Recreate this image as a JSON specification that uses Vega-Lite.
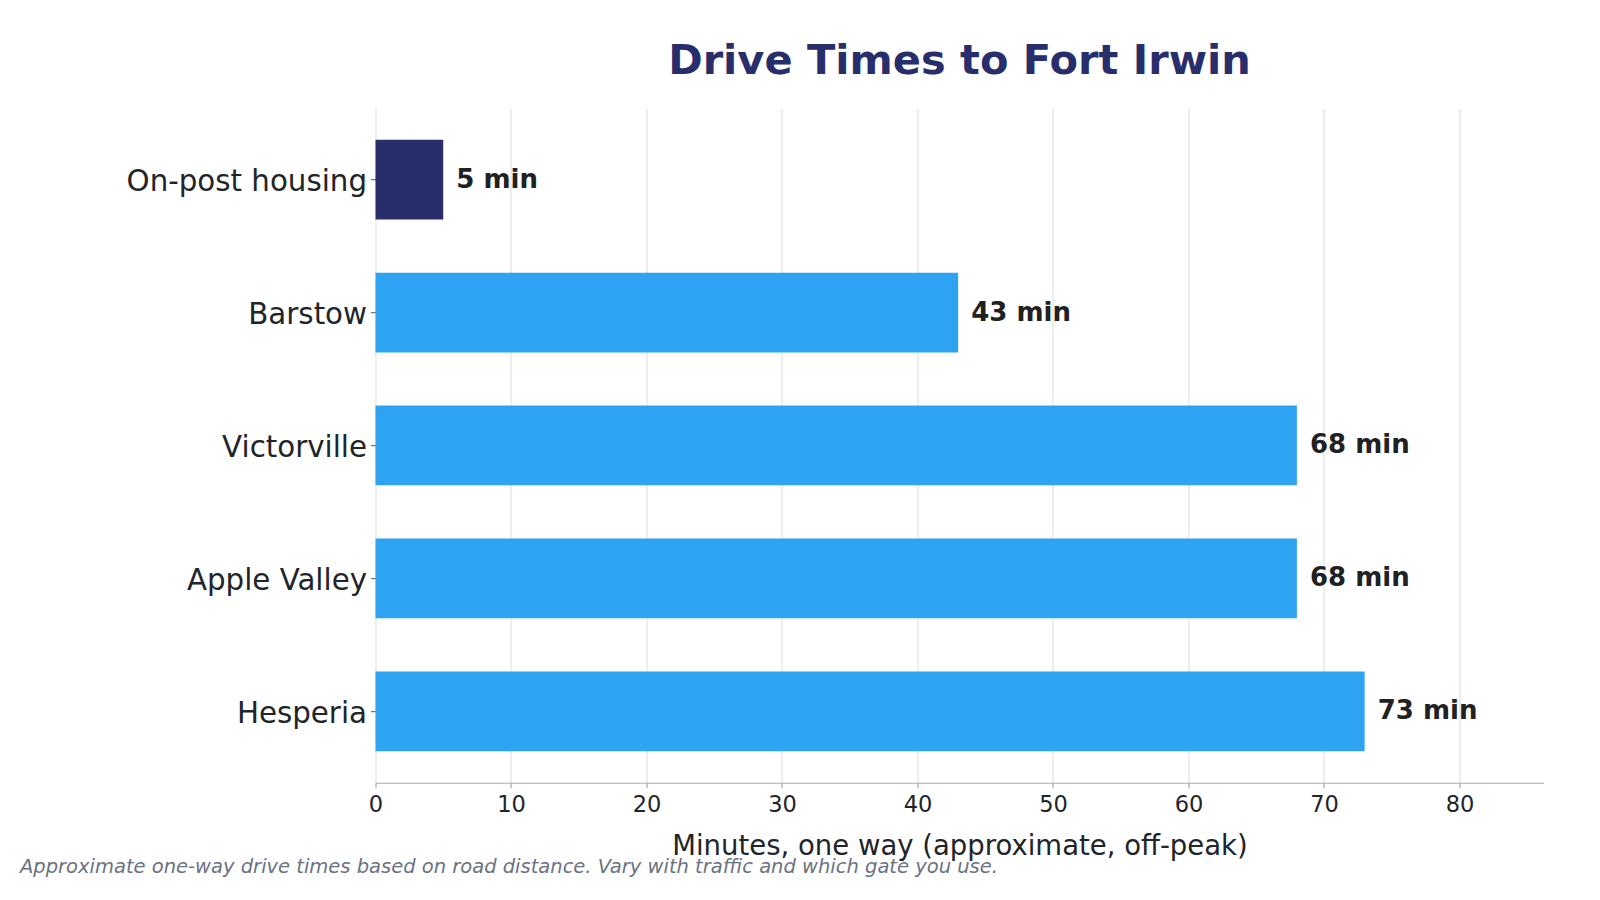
{
  "$schema": "https://vega.github.io/schema/vega-lite/v6.json",
  "width": 1168,
  "height": 674.5,
  "autosize": {"type": "none"},
  "padding": {"left": 375.5, "top": 108.2, "right": 56.5, "bottom": 117.3},
  "background": "white",
  "config": {
    "view": {"stroke": null},
    "font": "DejaVu Sans"
  },
  "title": {
    "text": "Drive Times to Fort Irwin",
    "anchor": "middle",
    "font": "DejaVu Sans",
    "fontSize": 41.5,
    "fontWeight": "bold",
    "color": "#282e6b",
    "offset": 26
  },
  "data": {
    "values": [
      {"place": "On-post housing", "minutes": 5, "group": "on-post"},
      {"place": "Barstow", "minutes": 43, "group": "off-post"},
      {"place": "Victorville", "minutes": 68, "group": "off-post"},
      {"place": "Apple Valley", "minutes": 68, "group": "off-post"},
      {"place": "Hesperia", "minutes": 73, "group": "off-post"}
    ]
  },
  "transform": [
    {"calculate": "datum.minutes + ' min'", "as": "label"}
  ],
  "encoding": {
    "y": {
      "field": "place",
      "type": "nominal",
      "sort": null,
      "scale": {"paddingInner": 0.4, "paddingOuter": 0.237},
      "axis": {
        "title": null,
        "domain": false,
        "ticks": true,
        "tickSize": 5,
        "tickColor": "#555555",
        "labelPadding": 4,
        "labelLimit": 400,
        "labelOffset": 2.5,
        "labelFontSize": 29.3,
        "labelColor": "#212529",
        "labelFont": "DejaVu Sans"
      }
    }
  },
  "layer": [
    {
      "mark": {"type": "bar"},
      "encoding": {
        "x": {
          "field": "minutes",
          "type": "quantitative",
          "scale": {"domain": [0, 86.2], "nice": false, "zero": true},
          "axis": {
            "values": [0, 10, 20, 30, 40, 50, 60, 70, 80],
            "title": "Minutes, one way (approximate, off-peak)",
            "titleFont": "DejaVu Sans",
            "titleFontSize": 27.5,
            "titleFontWeight": "normal",
            "titleColor": "#212529",
            "titlePadding": 16,
            "labelFont": "DejaVu Sans",
            "labelFontSize": 22.5,
            "labelColor": "#212529",
            "labelPadding": 6,
            "labelFlush": false,
            "tickSize": 5,
            "tickColor": "#999999",
            "domainColor": "#aaaaaa",
            "grid": true,
            "gridColor": "#dcdcdc",
            "gridWidth": 1
          }
        },
        "color": {
          "field": "group",
          "type": "nominal",
          "scale": {"domain": ["on-post", "off-post"], "range": ["#282e6b", "#2ea3f2"]},
          "legend": null
        }
      }
    },
    {
      "mark": {
        "type": "text",
        "align": "left",
        "baseline": "middle",
        "dx": 13,
        "font": "DejaVu Sans",
        "fontSize": 26,
        "fontWeight": "bold",
        "color": "#212121"
      },
      "encoding": {
        "x": {
          "field": "minutes",
          "type": "quantitative",
          "scale": {"domain": [0, 86.2], "nice": false, "zero": true},
          "axis": {
            "orient": "bottom",
            "domain": false,
            "ticks": false,
            "labels": false,
            "grid": false,
            "title": "Approximate one-way drive times based on road distance. Vary with traffic and which gate you use.",
            "titleFont": "DejaVu Sans",
            "titleFontStyle": "italic",
            "titleFontWeight": "normal",
            "titleFontSize": 19.5,
            "titleColor": "#6b7280",
            "titleAnchor": "start",
            "titleAlign": "left",
            "titleBaseline": "alphabetic",
            "titleX": -356,
            "titleY": 90
          }
        },
        "text": {"field": "label", "type": "nominal"}
      }
    }
  ],
  "resolve": {"axis": {"x": "independent"}}
}
